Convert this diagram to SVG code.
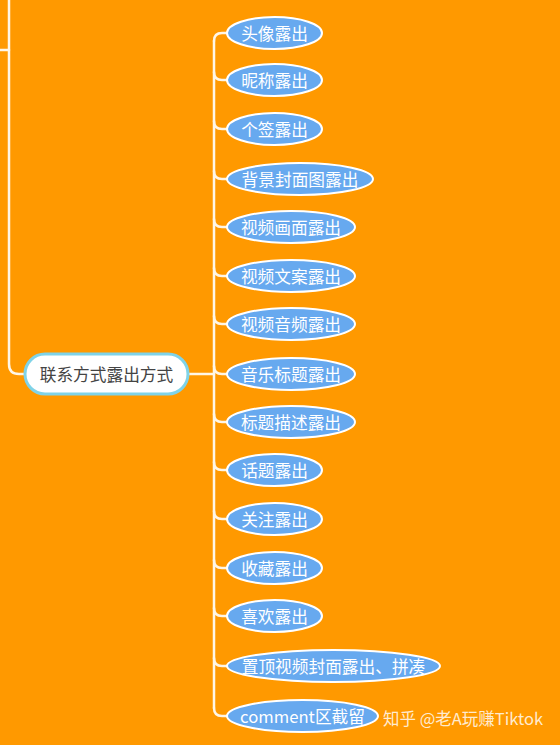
<svg xmlns="http://www.w3.org/2000/svg" width="560" height="745" viewBox="0 0 560 745">
<style>
.ln{fill:none;stroke:#FFF6E6;stroke-width:2.5;stroke-linecap:round}
.leaf{fill:#67A9EF;stroke:#FFFFFF;stroke-width:2}
.lt{font-family:"Noto Sans CJK SC","Liberation Sans",sans-serif;font-size:16.7px;fill:#FFFFFF;text-anchor:middle;dominant-baseline:central}
.ct{font-family:"Noto Sans CJK SC","Liberation Sans",sans-serif;font-size:16.7px;fill:#444444;text-anchor:middle;dominant-baseline:central}
</style>
<rect width="560" height="745" fill="#FF9900"/>
<g id="connectors">
<path class="ln" d="M9,0 V364 Q9,374 19,374 H25"/>
<path class="ln" d="M0,50 H9"/>
<path class="ln" d="M188,374 H214"/>
<path class="ln" d="M214,41 V708"/>
<path class="ln" d="M214,41 Q214,33 222,33 H228"/>
<path class="ln" d="M214,72 Q214,80 222,80 H228"/>
<path class="ln" d="M214,121 Q214,129 222,129 H228"/>
<path class="ln" d="M214,171 Q214,179 222,179 H228"/>
<path class="ln" d="M214,219 Q214,227 222,227 H228"/>
<path class="ln" d="M214,268 Q214,276 222,276 H228"/>
<path class="ln" d="M214,316 Q214,324 222,324 H228"/>
<path class="ln" d="M214,366 Q214,374 222,374 H228"/>
<path class="ln" d="M214,414 Q214,422 222,422 H228"/>
<path class="ln" d="M214,462 Q214,470 222,470 H228"/>
<path class="ln" d="M214,511 Q214,519 222,519 H228"/>
<path class="ln" d="M214,560 Q214,568 222,568 H228"/>
<path class="ln" d="M214,608 Q214,616 222,616 H228"/>
<path class="ln" d="M214,658 Q214,666 222,666 H228"/>
<path class="ln" d="M214,708 Q214,716 222,716 H228"/>
</g>
<g id="center">
<rect x="25" y="354" width="163" height="40" rx="20" fill="#FFFFFF" stroke="#7FD3E8" stroke-width="3"/>
<text class="ct" x="106.5" y="374">联系方式露出方式</text>
</g>
<g id="n1"><ellipse class="leaf" cx="274.5" cy="33" rx="47.5" ry="16"/><text class="lt" x="274.5" y="33">头像露出</text></g>
<g id="n2"><ellipse class="leaf" cx="274.5" cy="80" rx="47.5" ry="16"/><text class="lt" x="274.5" y="80">昵称露出</text></g>
<g id="n3"><ellipse class="leaf" cx="274.5" cy="129" rx="47.5" ry="16"/><text class="lt" x="274.5" y="129">个签露出</text></g>
<g id="n4"><ellipse class="leaf" cx="300" cy="179" rx="73" ry="16"/><text class="lt" x="300" y="179">背景封面图露出</text></g>
<g id="n5"><ellipse class="leaf" cx="291" cy="227" rx="64" ry="16"/><text class="lt" x="291" y="227">视频画面露出</text></g>
<g id="n6"><ellipse class="leaf" cx="291" cy="276" rx="64" ry="16"/><text class="lt" x="291" y="276">视频文案露出</text></g>
<g id="n7"><ellipse class="leaf" cx="291" cy="324" rx="64" ry="16"/><text class="lt" x="291" y="324">视频音频露出</text></g>
<g id="n8"><ellipse class="leaf" cx="291" cy="374" rx="64" ry="16"/><text class="lt" x="291" y="374">音乐标题露出</text></g>
<g id="n9"><ellipse class="leaf" cx="291" cy="422" rx="64" ry="16"/><text class="lt" x="291" y="422">标题描述露出</text></g>
<g id="n10"><ellipse class="leaf" cx="274.5" cy="470" rx="47.5" ry="16"/><text class="lt" x="274.5" y="470">话题露出</text></g>
<g id="n11"><ellipse class="leaf" cx="274.5" cy="519" rx="47.5" ry="16"/><text class="lt" x="274.5" y="519">关注露出</text></g>
<g id="n12"><ellipse class="leaf" cx="274.5" cy="568" rx="47.5" ry="16"/><text class="lt" x="274.5" y="568">收藏露出</text></g>
<g id="n13"><ellipse class="leaf" cx="274.5" cy="616" rx="47.5" ry="16"/><text class="lt" x="274.5" y="616">喜欢露出</text></g>
<g id="n14"><ellipse class="leaf" cx="333.5" cy="666" rx="106.5" ry="16"/><text class="lt" x="333.5" y="666">置顶视频封面露出、拼凑</text></g>
<g id="n15"><ellipse class="leaf" cx="302.5" cy="716" rx="75.5" ry="16"/><text class="lt" x="302.5" y="716">comment区截留</text></g>
<text x="383" y="725" font-family="'Noto Sans CJK SC','Liberation Sans',sans-serif" font-size="16.5" fill="#FFEBD0">知乎 @老A玩赚Tiktok</text>
</svg>
